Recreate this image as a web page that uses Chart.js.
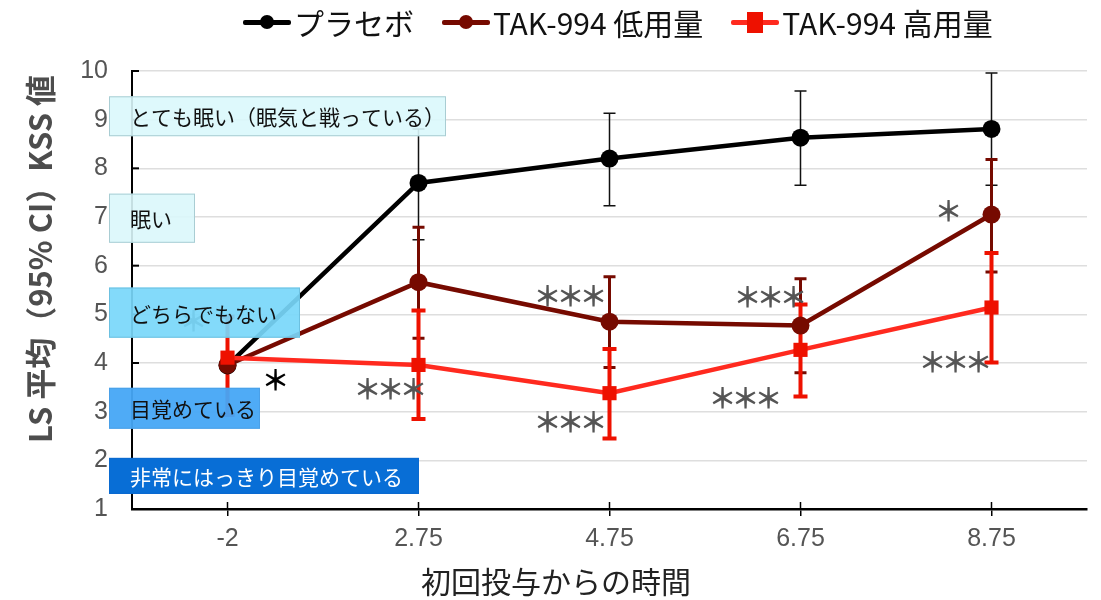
<!DOCTYPE html>
<html>
<head>
<meta charset="utf-8">
<script src="https://cdn.jsdelivr.net/npm/chart.js@4.4.1/dist/chart.umd.min.js"></script>
<style>
  html, body { margin: 0; padding: 0; background: #fff; }
  #wrap { position: relative; width: 1101px; height: 600px; }
  #legend { position: absolute; top: 0; left: 0; width: 1101px; height: 44px; box-sizing: border-box;
    padding-left: 243px; display: flex; justify-content: flex-start; align-items: center; gap: 28px;
    font-family: "Noto Sans CJK JP", sans-serif; font-size: 30px; color: #111; }
  .item { display: flex; align-items: center; gap: 3px; }
  .sym { position: relative; width: 48px; height: 20px; }
  .sym .ln { position: absolute; left: 0; right: 0; top: 8px; height: 5px; border-radius: 2px; }
  .sym .mk { position: absolute; left: 17px; top: 3px; width: 14px; height: 14px; border-radius: 50%; }
  .sym .sq { position: absolute; left: 16px; top: 0px; width: 16px; height: 21px; }
</style>
</head>
<body>
<div id="wrap">
  <canvas id="chart" width="1101" height="600"></canvas>
  <div id="legend"></div>
</div>
<script>
// data
const categories = ['-2', '2.75', '4.75', '6.75', '8.75'];
const seriesNames = ['プラセボ', 'TAK-994 低用量', 'TAK-994 高用量'];

const placebo   = [3.95, 7.70, 8.20, 8.63, 8.81];
const placeboLo = [null, 6.53, 7.23, 7.65, 7.65];
const placeboHi = [null, 8.81, 9.13, 9.59, 9.96];

const lowDose   = [3.96, 5.66, 4.85, 4.77, 7.05];
const lowDoseLo = [null, 4.51, 3.91, 3.80, 5.87];
const lowDoseHi = [null, 6.79, 5.77, 5.73, 8.18];

const highDose   = [4.11, 3.96, 3.38, 4.27, 5.14];
const highDoseLo = [2.93, 2.85, 2.45, 3.31, 4.01];
const highDoseHi = [4.95, 5.08, 4.29, 5.20, 6.26];

const yTicks = [1, 2, 3, 4, 5, 6, 7, 8, 9, 10];

// KSS bands
const zoneLabels = ['とても眠い（眠気と戦っている）', '眠い', 'どちらでもない', '目覚めている', '非常にはっきり目覚めている'];
const zoneTop    = [9.48, 7.48, 5.55, 3.49, 2.05];
const zoneBottom = [8.66, 6.47, 4.52, 2.65, 1.31];

// significance marks: number of stars, category index, value
const sigStars = [1, 3, 3, 3, 3, 3, 1, 3, 1];
const sigIndex = [0, 1, 2, 2, 3, 3, 4, 4, 0];
const sigValue = [3.65, 3.45, 5.36, 2.79, 5.34, 3.28, 7.11, 4.02, 4.85];

const colBlack = '#000000';
const colDark = '#760a00';
const colRed = '#ff2a1f';
const colRedMk = '#ee1100';

const zoneFill = ['rgba(218,248,252,0.9)', 'rgba(218,247,251,0.9)', 'rgba(120,215,250,0.92)', 'rgba(70,166,245,0.95)', 'rgba(8,110,214,1)'];
const zoneBorder = ['#a9cdd3', '#a9cdd3', '#6cc0e0', '#4aa0e8', '#0a6ad0'];
const zoneWidth = [337, 86, 191, 151, 310];
const zoneText = ['#111', '#111', '#111', '#111', '#fff'];
const sigDx = [48, -28, -39, -39, -30, -55, -43, -36, -34];
const sigCol = ['#000', '#555', '#555', '#555', '#555', '#555', '#555', '#555', '#555'];

const errBars = [
  { lo: placeboLo, hi: placeboHi, color: '#111', width: 1.5, cap: 6 },
  { lo: lowDoseLo, hi: lowDoseHi, color: colDark, width: 3, cap: 6 },
  { lo: highDoseLo, hi: highDoseHi, color: colRedMk, width: 4, cap: 7 }
];

const latin = '"Liberation Sans", Arial, sans-serif';
const jp = '"Noto Sans CJK JP", sans-serif';

const extras = {
  id: 'extras',
  beforeDatasetsDraw(chart) {
    const ctx = chart.ctx, x = chart.scales.x, y = chart.scales.y;
    errBars.forEach(e => {
      ctx.save();
      ctx.strokeStyle = e.color;
      ctx.lineWidth = e.width;
      categories.forEach((c, i) => {
        if (e.lo[i] == null) return;
        const px = x.getPixelForValue(i);
        const a = y.getPixelForValue(e.lo[i]), b = y.getPixelForValue(e.hi[i]);
        ctx.beginPath();
        ctx.moveTo(px, a); ctx.lineTo(px, b);
        ctx.moveTo(px - e.cap, a); ctx.lineTo(px + e.cap, a);
        ctx.moveTo(px - e.cap, b); ctx.lineTo(px + e.cap, b);
        ctx.stroke();
      });
      ctx.restore();
    });
  },
  afterDraw(chart) {
    const ctx = chart.ctx, x = chart.scales.x, y = chart.scales.y, area = chart.chartArea;
    ctx.save();
    // inward y ticks, x ticks crossing the axis
    ctx.strokeStyle = '#000';
    ctx.lineWidth = 2;
    yTicks.forEach(v => {
      const py = y.getPixelForValue(v);
      ctx.beginPath(); ctx.moveTo(area.left, py); ctx.lineTo(area.left + 7, py); ctx.stroke();
    });
    ctx.lineWidth = 1.5;
    categories.forEach((c, i) => {
      const px = x.getPixelForValue(i);
      ctx.beginPath(); ctx.moveTo(px, area.bottom); ctx.lineTo(px, area.bottom - 7); ctx.stroke();
    });
    // significance marks
    ctx.font = 'bold 28px ' + jp;
    ctx.textAlign = 'center';
    ctx.textBaseline = 'middle';
    sigStars.forEach((n, i) => {
      ctx.fillStyle = sigCol[i];
      const cx = x.getPixelForValue(sigIndex[i]) + sigDx[i], cy = y.getPixelForValue(sigValue[i]);
      for (let k = 0; k < n; k++) ctx.fillText('＊', cx + (k - (n - 1) / 2) * 23, cy);
    });
    // KSS bands over the plot
    ctx.font = '21px ' + jp;
    ctx.textAlign = 'left';
    zoneLabels.forEach((t, i) => {
      const top = y.getPixelForValue(zoneTop[i]), bot = y.getPixelForValue(zoneBottom[i]);
      const left = area.left - 23;
      ctx.fillStyle = zoneFill[i];
      ctx.fillRect(left, top, zoneWidth[i], bot - top);
      ctx.strokeStyle = zoneBorder[i];
      ctx.lineWidth = 1;
      ctx.strokeRect(left + 0.5, top + 0.5, zoneWidth[i] - 1, bot - top - 1);
      ctx.fillStyle = zoneText[i];
      ctx.fillText(t, left + 21, (top + bot) / 2 + 1);
    });
    // axis titles
    ctx.fillStyle = '#222';
    ctx.font = '30px ' + jp;
    ctx.textAlign = 'center';
    ctx.fillText('初回投与からの時間', 556, 582);
    ctx.translate(40, 259);
    ctx.rotate(-Math.PI / 2);
    ctx.fillStyle = '#4d4d4d';
    ctx.font = 'bold 31px ' + jp;
    ctx.fillText('LS 平均（95% CI）KSS 値', 0, 0);
    ctx.restore();
  }
};

new Chart(document.getElementById('chart'), {
  type: 'line',
  data: {
    labels: categories,
    datasets: [
      { label: seriesNames[0], data: placebo, borderColor: colBlack, backgroundColor: colBlack,
        borderWidth: 4.5, pointStyle: 'circle', pointRadius: 9, pointBorderWidth: 0, order: 2 },
      { label: seriesNames[1], data: lowDose, borderColor: colDark, backgroundColor: colDark,
        borderWidth: 4.5, pointStyle: 'circle', pointRadius: 9, pointBorderWidth: 0, order: 1 },
      { label: seriesNames[2], data: highDose, borderColor: colRed, backgroundColor: colRedMk,
        borderWidth: 4.5, pointStyle: 'rect', pointRadius: 10, pointBorderWidth: 0, order: 0 }
    ]
  },
  options: {
    responsive: false,
    animation: false,
    devicePixelRatio: 1,
    layout: { padding: { top: 71, right: 14, left: 0, bottom: 0 } },
    plugins: { legend: { display: false }, tooltip: { enabled: false } },
    scales: {
      x: {
        offset: true,
        grid: { drawOnChartArea: false, color: '#000', tickLength: 7, lineWidth: 1.5 },
        border: { color: '#000', width: 2.5 },
        ticks: { color: '#555', font: { family: latin, size: 25 }, padding: 8 },
        afterFit(s) { s.height = 91; }
      },
      y: {
        min: 1, max: 10,
        ticks: { stepSize: 1, color: '#555', font: { family: latin, size: 25 }, padding: 24 },
        grid: { color: '#dedede', lineWidth: 1.5, drawTicks: false },
        border: { color: '#000', width: 2 },
        afterFit(s) { s.width = 132; }
      }
    }
  },
  plugins: [extras]
});

// legend
const legendSyms = [
  '<div class="ln" style="background:' + colBlack + '"></div><div class="mk" style="background:' + colBlack + '"></div>',
  '<div class="ln" style="background:' + colDark + '"></div><div class="mk" style="background:' + colDark + '"></div>',
  '<div class="ln" style="background:' + colRed + '"></div><div class="sq" style="background:' + colRedMk + '"></div>'
];
const legend = document.getElementById('legend');
seriesNames.forEach((n, i) => {
  const it = document.createElement('div');
  it.className = 'item';
  it.innerHTML = '<div class="sym">' + legendSyms[i] + '</div><span>' + n + '</span>';
  legend.appendChild(it);
});
</script>
</body>
</html>
